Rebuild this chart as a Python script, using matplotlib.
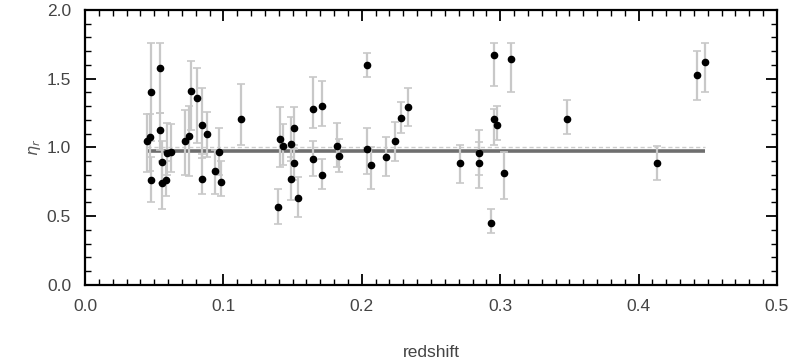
import matplotlib
matplotlib.use("Agg")
import matplotlib.pyplot as plt
import numpy as np
from matplotlib.ticker import MultipleLocator

plt.rcParams['font.family'] = ['Liberation Sans', 'DejaVu Sans']

redshift = [0.0445, 0.047, 0.0475, 0.048, 0.054, 0.054, 0.0555, 0.0555, 0.0585, 0.059,
            0.062, 0.072, 0.075, 0.0766, 0.0807, 0.0843, 0.0848, 0.0884, 0.094, 0.0968,
            0.0983, 0.113, 0.1397, 0.141, 0.1428, 0.1486, 0.1488, 0.151, 0.151, 0.1541,
            0.1645, 0.1645, 0.1712, 0.1712, 0.1823, 0.1833, 0.2035, 0.2035, 0.2064, 0.2175,
            0.2242, 0.2283, 0.2336, 0.2712, 0.2844, 0.2844, 0.2931, 0.2957, 0.2957, 0.2975,
            0.3027, 0.3078, 0.348, 0.413, 0.4424, 0.4482]
eta = [1.047, 1.074, 1.40, 0.764, 1.58, 1.127, 0.897, 0.744, 0.764, 0.958,
       0.970, 1.05, 1.084, 1.413, 1.358, 1.164, 0.771, 1.098, 0.829, 0.965,
       0.751, 1.205, 0.565, 1.06, 1.013, 1.025, 0.768, 1.144, 0.889, 0.635,
       1.278, 0.916, 1.30, 0.80, 1.013, 0.938, 1.60, 0.991, 0.875, 0.929,
       1.047, 1.215, 1.292, 0.889, 0.958, 0.885, 0.453, 1.673, 1.207, 1.164,
       0.812, 1.641, 1.205, 0.885, 1.527, 1.62]
err_top = [1.24, 1.24, 1.76, 0.93, 1.76, 1.25, 1.05, 0.90, 0.90, 1.18,
           1.17, 1.27, 1.30, 1.63, 1.58, 1.43, 0.95, 1.26, 0.98, 1.144,
           0.90, 1.46, 0.70, 1.297, 1.17, 1.22, 0.93, 1.297, 1.02, 0.788,
           1.51, 1.05, 1.48, 0.914, 1.176, 1.06, 1.69, 1.144, 1.00, 1.074,
           1.188, 1.33, 1.435, 1.018, 1.127, 1.042, 0.55, 1.758, 1.278, 1.30,
           0.97, 1.758, 1.345, 1.013, 1.704, 1.758]
err_bot = [0.82, 0.83, 1.05, 0.60, 1.25, 0.98, 0.74, 0.553, 0.65, 0.80,
           0.82, 0.80, 0.79, 1.13, 1.03, 0.92, 0.66, 0.93, 0.66, 0.80,
           0.647, 1.02, 0.444, 0.86, 0.87, 0.90, 0.62, 0.99, 0.76, 0.492,
           1.14, 0.79, 1.156, 0.70, 0.86, 0.82, 1.51, 0.81, 0.70, 0.79,
           0.904, 1.103, 1.156, 0.74, 0.80, 0.703, 0.376, 1.447, 1.018, 1.055,
           0.625, 1.40, 1.098, 0.764, 1.345, 1.40]
eta_mean = 0.975
eta_ref = 1.0

z = np.array(redshift)
e = np.array(eta)
lo = e - np.array(err_bot)
hi = np.array(err_top) - e

fig = plt.figure(figsize=(7.96, 3.63), dpi=100)
ax = fig.add_axes([0.1068, 0.2149, 0.8693, 0.7576])

ax.hlines(eta_ref, z.min(), z.max(), colors='#cccccc', linestyles=(0, (3, 2)), linewidth=1.0, zorder=1)
ax.hlines(eta_mean, z.min(), z.max(), colors='#6e6e6e', linewidth=2.6, zorder=2)
ax.errorbar(z, e, yerr=[lo, hi], fmt='none', ecolor='#c8c8c8', elinewidth=1.6,
            capsize=3, capthick=1.2, zorder=3)
ax.plot(z, e, 'o', color='black', markersize=4.5, zorder=4)

ax.set_xlim(0.0, 0.5)
ax.set_ylim(0.0, 2.0)
ax.xaxis.set_major_locator(MultipleLocator(0.1))
ax.xaxis.set_minor_locator(MultipleLocator(0.01))
ax.yaxis.set_major_locator(MultipleLocator(0.5))
ax.yaxis.set_minor_locator(MultipleLocator(0.1))
ax.xaxis.set_major_formatter(plt.FuncFormatter(lambda v, p: f"{v:.1f}"))
ax.yaxis.set_major_formatter(plt.FuncFormatter(lambda v, p: f"{v:.1f}"))

ax.tick_params(which='both', direction='in', top=True, right=True, color='black',
               labelcolor='#444444', labelsize=12.5)
ax.tick_params(which='major', length=8, width=1.3, pad=10)
ax.tick_params(which='minor', length=4, width=1.0)
for s in ax.spines.values():
    s.set_linewidth(1.6)
    s.set_color('black')

ax.set_xlabel('redshift', fontsize=12.5, color='#444444', va='center')
ax.xaxis.set_label_coords(0.5, -0.244)
ax.set_ylabel(r'$\eta_r$', fontsize=11.5, color='#555555', va='center')
ax.yaxis.set_label_coords(-0.072, 0.5)

fig.savefig('out.png', dpi=100)
